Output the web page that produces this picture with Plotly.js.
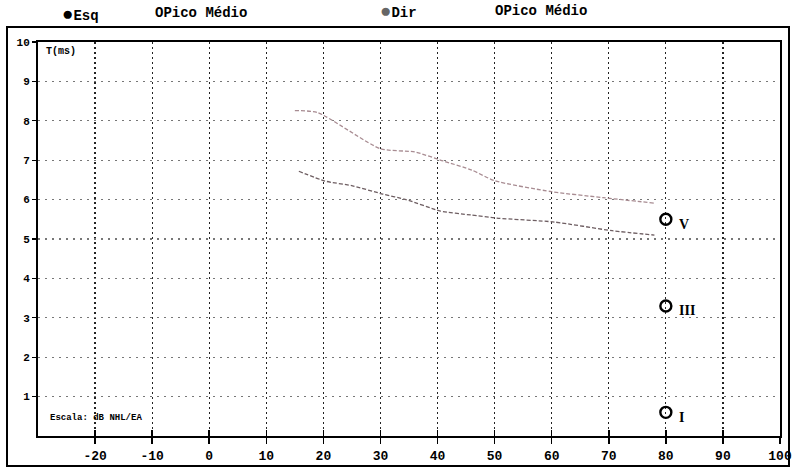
<!DOCTYPE html>
<html><head><meta charset="utf-8">
<script src="https://cdn.plot.ly/plotly-3.0.1.min.js"></script>
<style>html,body{margin:0;padding:0;background:#fff}</style>
</head><body><div id="chart" style="width:795px;height:473px"></div>
<script>
// ---- data ----
const xTickVals = [-20,-10,0,10,20,30,40,50,60,70,80,90,100];
const yTickVals = [1,2,3,4,5,6,7,8,9,10];
const upperX = [15, 19, 30, 36, 41, 46, 50, 60, 69, 78];
const upperY = [8.26, 8.21, 7.29, 7.21, 6.98, 6.75, 6.48, 6.2, 6.05, 5.91];
const lowerX = [15.7, 20.3, 25.1, 30.4, 34.5, 40.5, 45.8, 50.4, 60.5, 70.6, 78];
const lowerY = [6.72, 6.47, 6.35, 6.14, 6.0, 5.71, 5.61, 5.53, 5.43, 5.21, 5.1];
const peakLabels = ['V','III','I'];
const peakX = [80, 80, 80];
const peakY = [5.5, 3.3, 0.6];
const legendTexts = ['<span style="font-size:19px">●</span>Esq', 'OPico Médio', '<span style="font-size:19px;color:#666">●</span>Dir', 'OPico Médio'];
const yAxisTitle = 'T(ms)';
const scaleNote = 'Escala: dB NHL/EA';

// ---- layout helpers (pixel -> paper) ----
const L = 38, R = 15, T = 42, B = 37, W = 795, H = 473;
const pw = W - L - R, ph = H - T - B;
const px = X => (X - L) / pw;
const py = Y => (H - B - Y) / ph;
const mono = 'Liberation Mono, DejaVu Sans Mono, monospace';

const traces = [
  {x: upperX, y: upperY, mode: 'lines', line: {color: '#a88c92', width: 1.3, dash: '4px,2px', shape: 'spline', smoothing: 0.6}, hoverinfo: 'skip'},
  {x: lowerX, y: lowerY, mode: 'lines', line: {color: '#6e5e62', width: 1.3, dash: '4px,2px', shape: 'spline', smoothing: 0.6}, hoverinfo: 'skip'},
  {x: peakX, y: peakY, mode: 'markers', marker: {symbol: 'circle-open', size: 11, color: '#000', line: {width: 2.4, color: '#000'}}, hoverinfo: 'skip'},
  {x: [peakX[0]], y: [peakY[0]], xaxis: 'x2', mode: 'markers', marker: {opacity: 0}, hoverinfo: 'skip'}
];

const annotations = [];
peakLabels.forEach((t, i) => annotations.push({
  x: peakX[i], y: peakY[i], xref: 'x', yref: 'y', text: t, showarrow: false,
  xanchor: 'left', yanchor: 'middle', xshift: 11, yshift: -5,
  font: {family: 'Liberation Serif, serif', size: 14, color: '#000', weight: 'bold'}
}));
const legPos = [[60, 15], [153, 13], [378, 12], [493, 11]];
legendTexts.forEach((t, i) => annotations.push({
  x: px(legPos[i][0]), y: py(legPos[i][1]), xref: 'paper', yref: 'paper', text: t, showarrow: false,
  xanchor: 'left', yanchor: 'middle', font: {family: mono, size: 14, color: '#000', weight: 'bold'}
}));
annotations.push({x: px(44), y: py(51), xref: 'paper', yref: 'paper', text: yAxisTitle, showarrow: false,
  xanchor: 'left', yanchor: 'middle', font: {family: mono, size: 10, color: '#000', weight: 'bold'}});
annotations.push({x: px(48), y: py(418), xref: 'paper', yref: 'paper', text: scaleNote, showarrow: false,
  xanchor: 'left', yanchor: 'middle', font: {family: mono, size: 9, color: '#000', weight: 'bold'}});

const shapes = [
  {type: 'rect', xref: 'paper', yref: 'paper', x0: px(7), x1: px(789), y0: py(466), y1: py(27), line: {color: '#000', width: 2}}
];

const layout = {
  width: W, height: H, margin: {l: L, r: R, t: T, b: B},
  paper_bgcolor: '#fff', plot_bgcolor: '#fff', showlegend: false,
  xaxis: {range: [-30, 100], tickvals: xTickVals, ticktext: xTickVals.map(String),
    ticks: 'outside', ticklen: 6, tickwidth: 1.5, tickcolor: '#000',
    showgrid: true, gridcolor: '#222', gridwidth: 1.3, griddash: '2px,3px',
    showline: true, linecolor: '#000', linewidth: 2, mirror: true, zeroline: false,
    tickfont: {family: mono, size: 13, color: '#000', weight: 'bold'}},
  xaxis2: {overlaying: 'x', anchor: 'y', side: 'bottom', range: [-30, 100], tickvals: xTickVals,
    ticks: 'inside', ticklen: 6, tickwidth: 1.5, tickcolor: '#000', showticklabels: false,
    showgrid: false, showline: false, zeroline: false},
  yaxis: {range: [0, 10], tickvals: yTickVals, ticktext: yTickVals.map(String),
    ticks: 'outside', ticklen: 4, tickwidth: 1.3, tickcolor: '#000',
    showgrid: true, gridcolor: '#777', gridwidth: 1.2, griddash: '2px,5px',
    showline: true, linecolor: '#000', linewidth: 2, mirror: true, zeroline: false,
    tickfont: {family: mono, size: 11, color: '#000', weight: 'bold'}},
  annotations: annotations, shapes: shapes
};

Plotly.newPlot('chart', traces, layout, {staticPlot: true, displayModeBar: false});
</script></body></html>
